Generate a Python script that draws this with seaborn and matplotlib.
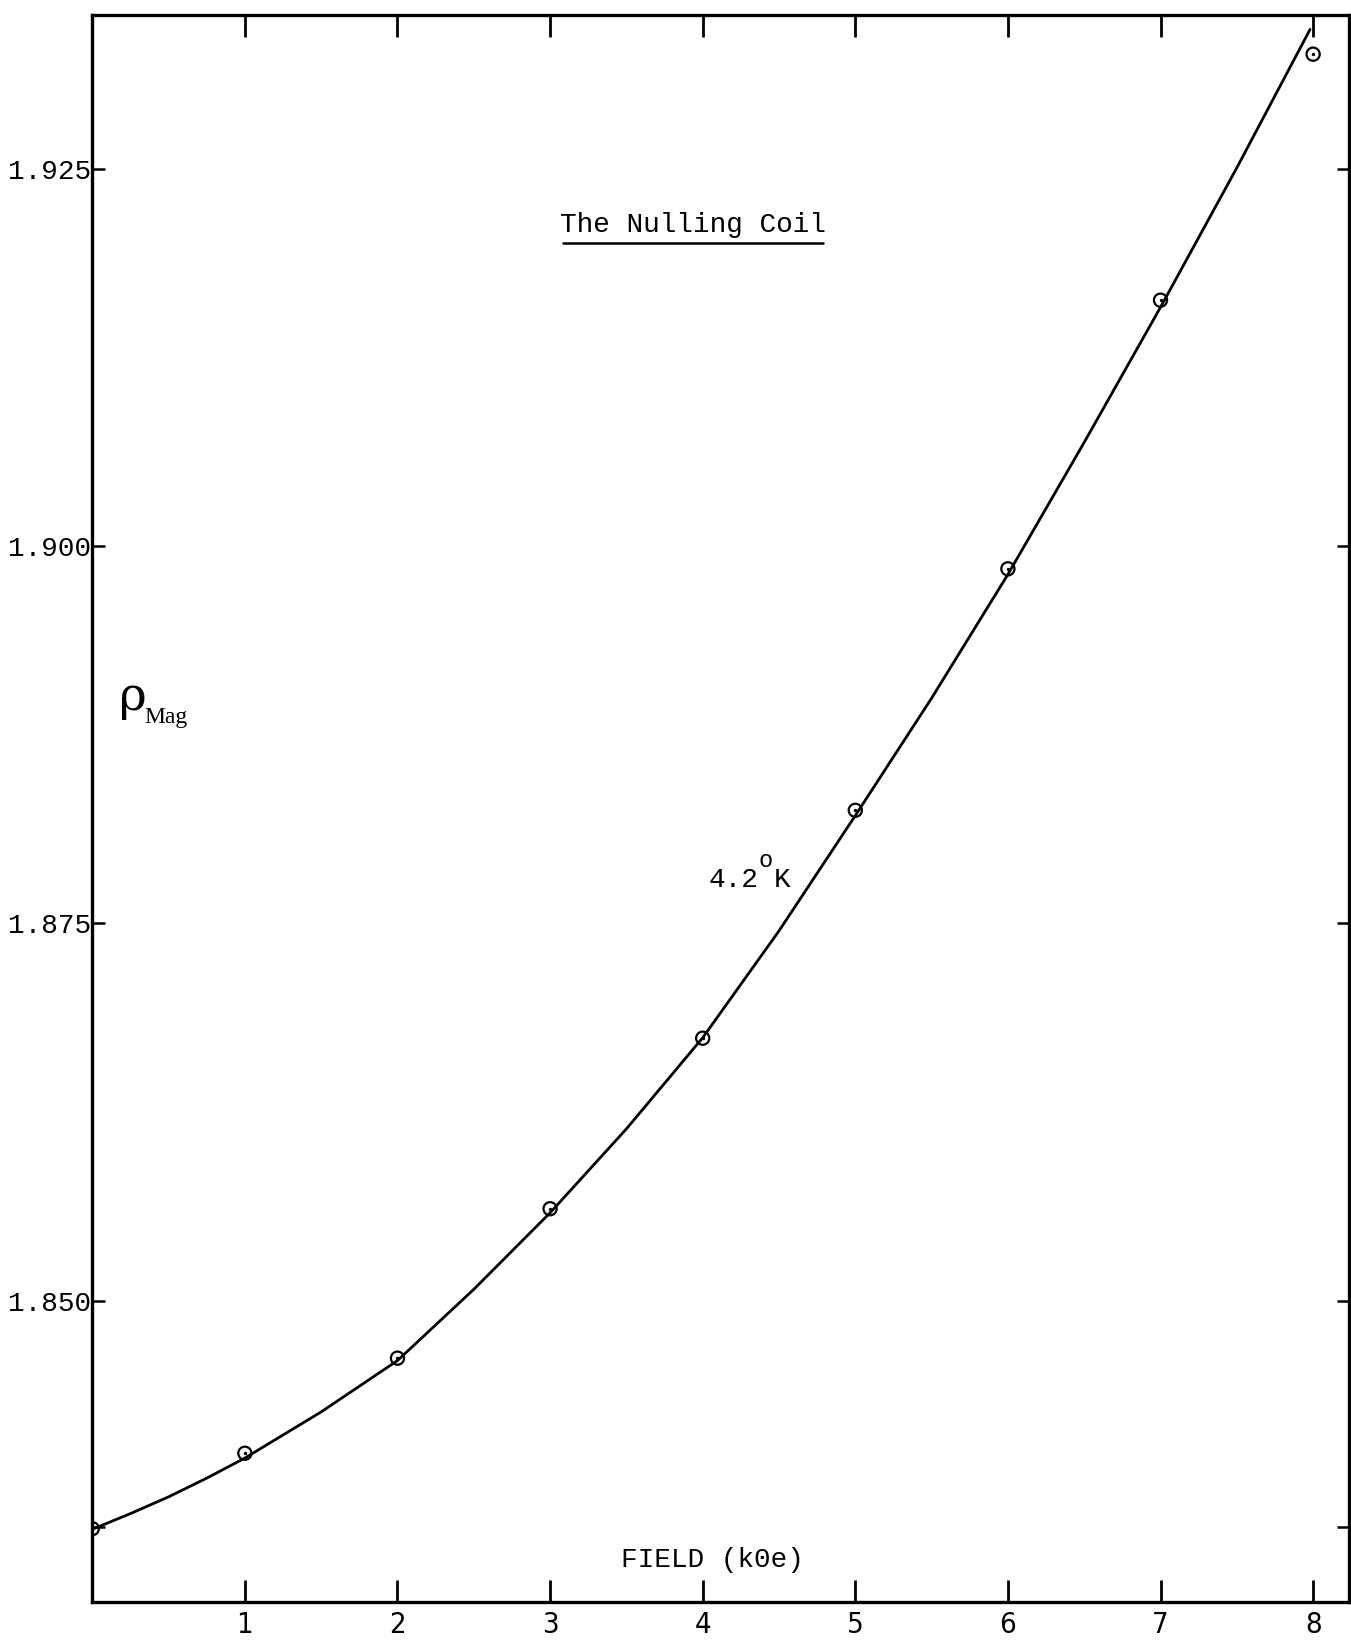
import numpy as np
import pandas as pd
import matplotlib
matplotlib.use("Agg")
import matplotlib.pyplot as plt
import seaborn as sns

# Measured magnetoresistance of the nulling coil at 4.2 K
field_koe = [0, 1, 2, 3, 4, 5, 6, 7, 8]
rho_mag = [1.8349, 1.8399, 1.8462, 1.8561, 1.8674, 1.8825, 1.8985, 1.9163, 1.9326]

# Hand-drawn smooth curve through the measurements
curve_field = [0, 0.25, 0.5, 0.75, 1, 1.5, 2, 2.5, 3, 3.5, 4, 4.5, 5, 5.5, 6, 6.5, 7, 7.5, 7.98]
curve_rho = [1.83486, 1.83590, 1.83701, 1.83825, 1.83958, 1.84264, 1.84604, 1.85076,
             1.85583, 1.86139, 1.86743, 1.87451, 1.88215, 1.88993, 1.89813, 1.90688,
             1.91583, 1.92507, 1.93424]

x_ticks = [1, 2, 3, 4, 5, 6, 7, 8]
x_tick_labels = ["1", "2", "3", "4", "5", "6", "7", "8"]
y_ticks = [1.835, 1.850, 1.875, 1.900, 1.925]
y_tick_labels = ["", "1.850", "1.875", "1.900", "1.925"]

points = pd.DataFrame({"field": field_koe, "rho": rho_mag})
curve = pd.DataFrame({"field": curve_field, "rho": curve_rho})

sns.set_theme(style="white")
plt.rcParams["font.family"] = ["Liberation Mono", "DejaVu Sans"]

fig = plt.figure(figsize=(13.51, 16.43), dpi=100)
ax = fig.add_axes([0.0683, 0.0252, 0.9302, 0.9658])

sns.lineplot(data=curve, x="field", y="rho", ax=ax, color="black",
             linewidth=2.0, sort=False, estimator=None)
sns.scatterplot(data=points, x="field", y="rho", ax=ax, s=90, marker="o",
                facecolor="none", edgecolor="black", linewidth=1.6, zorder=5)
sns.scatterplot(data=points, x="field", y="rho", ax=ax, s=6, marker="o",
                color="black", linewidth=0, zorder=6)

ax.set_xlim(0, 8.235)
ax.set_ylim(1.83007, 1.93521)

for side in ["left", "right", "top", "bottom"]:
    ax.spines[side].set_visible(True)
    ax.spines[side].set_color("black")
    ax.spines[side].set_linewidth(2.4)

ax.set_xticks(x_ticks)
ax.set_xticklabels(x_tick_labels, family="DejaVu Sans", fontstretch="condensed",
                   fontsize=21)
ax.set_yticks(y_ticks)
ax.set_yticklabels(y_tick_labels, family="Liberation Mono", fontsize=20)

ax.tick_params(axis="x", direction="in", length=16, width=2.0, pad=7,
               top=True, bottom=True, colors="black")
ax.tick_params(axis="y", direction="in", length=9, width=1.8, pad=1,
               left=True, right=True, colors="black")

ax.set_xlabel("")
ax.set_ylabel("")

# Heading with underline
ax.text(3.935, 1.92125, "The Nulling Coil", ha="center", va="center",
        fontsize=20, family="Liberation Mono", color="black")
ax.plot([3.084, 4.787], [1.92007, 1.92007], color="black", linewidth=1.8)

# Temperature label on the curve
ax.text(4.038, 1.87785, "4.2", ha="left", va="center", fontsize=20,
        family="Liberation Mono", color="black")
ax.text(4.41, 1.87915, "o", ha="center", va="center", fontsize=17,
        family="Liberation Mono", color="black")
ax.text(4.52, 1.87785, "K", ha="center", va="center", fontsize=20,
        family="Liberation Mono", color="black")

# Axis quantity labels
ax.text(0.268, 1.89000, "\u03c1", ha="center", va="center", fontsize=34,
        family="DejaVu Serif", color="black")
ax.text(0.343, 1.88868, "Mag", ha="left", va="center", fontsize=17,
        family="Liberation Serif", color="black")
ax.text(4.066, 1.83285, "FIELD (k0e)", ha="center", va="center", fontsize=20,
        family="Liberation Mono", color="black")

fig.savefig("out.png", dpi=100)
